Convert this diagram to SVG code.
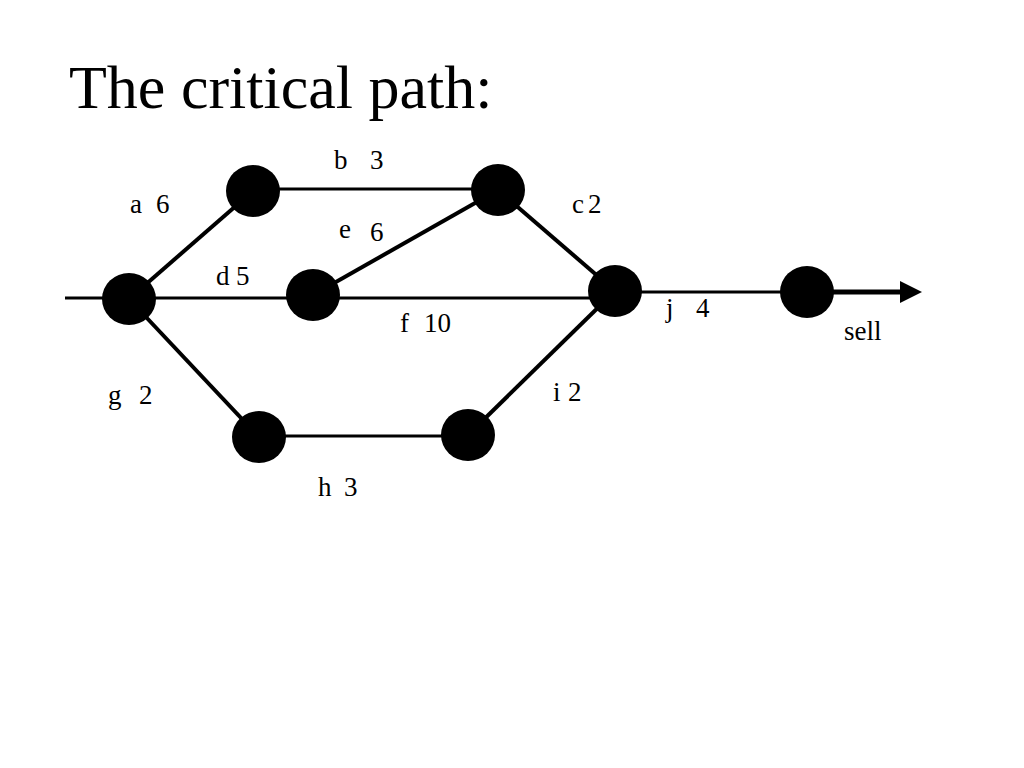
<svg xmlns="http://www.w3.org/2000/svg" width="1024" height="768" viewBox="0 0 1024 768">
<style>
.t{font-family:"Liberation Serif","Times New Roman",serif;fill:#000}
.lbl{font-size:27px}
.e{stroke:#000;fill:none;stroke-linecap:butt}
.h{stroke-width:3}
.dg{stroke-width:4}
.n{fill:#000}
</style>
<defs>
<marker id="arr" markerUnits="userSpaceOnUse" markerWidth="24" markerHeight="22" refX="0" refY="11" orient="auto">
<path d="M0,0 L22,11 L0,22 Z" fill="#000"/>
</marker>
</defs>
<rect width="1024" height="768" fill="#fff"/>
<text class="t" x="69" y="108" font-size="62">The critical path:</text>
<g id="connectors">
<line class="e h" x1="65" y1="298" x2="615" y2="298"/>
<line class="e dg" x1="129" y1="299" x2="253" y2="191"/>
<line class="e h" x1="253" y1="189" x2="498" y2="189"/>
<line class="e dg" x1="313" y1="295" x2="498" y2="190"/>
<line class="e dg" x1="498" y1="190" x2="615" y2="291"/>
<line class="e h" x1="615" y1="292" x2="807" y2="292"/>
<line class="e dg" x1="129" y1="299" x2="259" y2="437"/>
<line class="e h" x1="259" y1="436" x2="468" y2="436"/>
<line class="e dg" x1="468" y1="435" x2="615" y2="291"/>
<line class="e" stroke-width="5" x1="807" y1="292" x2="900" y2="292" marker-end="url(#arr)"/>
</g>
<g id="n1"><ellipse class="n" cx="129" cy="299" rx="27" ry="26"/></g>
<g id="n2"><ellipse class="n" cx="253" cy="191" rx="27" ry="26"/></g>
<g id="n3"><ellipse class="n" cx="498" cy="190" rx="27" ry="26"/></g>
<g id="n4"><ellipse class="n" cx="313" cy="295" rx="27" ry="26"/></g>
<g id="n5"><ellipse class="n" cx="615" cy="291" rx="27" ry="26"/></g>
<g id="n6"><ellipse class="n" cx="807" cy="292" rx="27" ry="26"/></g>
<g id="n7"><ellipse class="n" cx="259" cy="437" rx="27" ry="26"/></g>
<g id="n8"><ellipse class="n" cx="468" cy="435" rx="27" ry="26"/></g>
<g id="labels">
<text class="t lbl" x="130" y="213">a<tspan x="156">6</tspan></text>
<text class="t lbl" x="334" y="169">b<tspan x="370">3</tspan></text>
<text class="t lbl" x="339" y="238">e<tspan x="370" y="241">6</tspan></text>
<text class="t lbl" x="216" y="285">d<tspan x="236">5</tspan></text>
<text class="t lbl" x="400" y="332">f<tspan x="424">10</tspan></text>
<text class="t lbl" x="572" y="213">c<tspan x="588">2</tspan></text>
<text class="t lbl" x="666" y="317">j<tspan x="696">4</tspan></text>
<text class="t lbl" x="844" y="340">sell</text>
<text class="t lbl" x="108" y="404">g<tspan x="139">2</tspan></text>
<text class="t lbl" x="318" y="496">h<tspan x="344">3</tspan></text>
<text class="t lbl" x="553" y="401">i<tspan x="568">2</tspan></text>
</g>
</svg>
